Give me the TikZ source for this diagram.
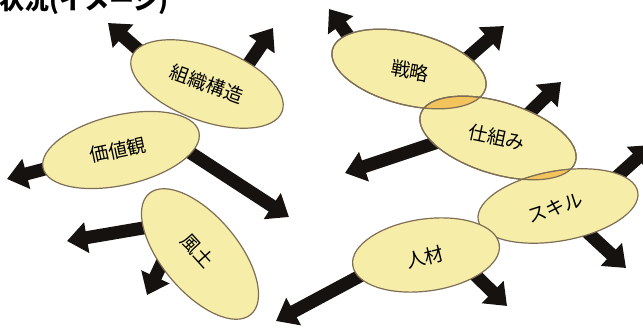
\documentclass[tikz,border=0pt]{standalone}
\usepackage{fontspec}
\newfontfamily\jp{Noto Sans CJK JP}
\usetikzlibrary{shapes.geometric,arrows.meta}
\definecolor{blobfill}{RGB}{246,237,168}
\definecolor{edgecol}{RGB}{125,110,85}
\definecolor{overcol}{RGB}{244,196,92}
\definecolor{arrowcol}{RGB}{22,18,16}
\tikzset{
  blob/.style={ellipse, draw=edgecol, line width=1.2pt, fill=blobfill, inner sep=0pt},
  bigarrow/.style={draw=arrowcol, line width=13pt, -{Triangle[length=20pt,width=30pt]}},
  lbl/.style={font=\jp\fontsize{19}{19}\selectfont, inner sep=0pt, text=black},
  edge line/.style={draw=edgecol, line width=1.2pt}
}
\begin{document}
\begin{tikzpicture}[x=1pt,y=-1pt]
\useasboundingbox (0,0) rectangle (643,328);
% title (cut off by page edge)
\node[anchor=base west, inner sep=0pt, font=\jp\bfseries\fontsize{25}{25}\selectfont] (title) at (-1,10) {状況(イメージ)};
% arrow end points
\coordinate (t1) at (150,60);  \coordinate (h1) at (108,23);
\coordinate (t2) at (243,72);  \coordinate (h2) at (273,28);
\coordinate (t3) at (180,146); \coordinate (h3) at (289,217);
\coordinate (t4) at (60,165);  \coordinate (h4) at (7,179);
\coordinate (t5) at (155,226); \coordinate (h5) at (67,241);
\coordinate (t6) at (168,250); \coordinate (h6) at (147,295);
\coordinate (t7) at (375,268); \coordinate (h7) at (276,321);
\coordinate (t8) at (465,265); \coordinate (h8) at (507,306);
\coordinate (t9) at (362,55);  \coordinate (h9) at (329,9);
\coordinate (t10) at (465,60); \coordinate (h10) at (504,26);
\coordinate (t11) at (520,122);\coordinate (h11) at (561,82);
\coordinate (t12) at (450,138);\coordinate (h12) at (345,173);
\coordinate (t13) at (600,192);\coordinate (h13) at (652,145);
\coordinate (t14) at (585,230);\coordinate (h14) at (626,268);
\foreach \i in {1,...,14} {\draw[bigarrow] (t\i) -- (h\i);}
% ellipses
\node[blob, minimum width=160pt, minimum height=74pt, rotate=-20] (sosiki) at (207,84) {};
\node[blob, minimum width=160pt, minimum height=70pt, rotate=13] (kachi) at (121,150) {};
\node[blob, minimum width=158pt, minimum height=76pt, rotate=-50] (fudo) at (200,254) {};
\node[blob, minimum width=158pt, minimum height=72pt, rotate=-14] (senryaku) at (409,69) {};
\node[blob, minimum width=162pt, minimum height=72pt, rotate=-17] (shikumi) at (498,138) {};
\node[blob, minimum width=162pt, minimum height=70pt, rotate=10] (skill) at (558,206) {};
\node[blob, minimum width=148pt, minimum height=72pt, rotate=8] (jinzai) at (426,255) {};
% overlaps
\begin{scope}
  \clip[rotate around={-14:(409,69)}] (409,69) ellipse [x radius=79pt, y radius=36pt];
  \fill[overcol, rotate around={-17:(498,138)}] (498,138) ellipse [x radius=81pt, y radius=36pt];
  \draw[edge line, rotate around={-17:(498,138)}] (498,138) ellipse [x radius=81pt, y radius=36pt];
\end{scope}
\draw[edge line, rotate around={-14:(409,69)}] (409,69) ellipse [x radius=79pt, y radius=36pt];
\begin{scope}
  \clip[rotate around={-17:(498,138)}] (498,138) ellipse [x radius=81pt, y radius=36pt];
  \fill[overcol, rotate around={10:(558,206)}] (558,206) ellipse [x radius=81pt, y radius=35pt];
  \draw[edge line, rotate around={10:(558,206)}] (558,206) ellipse [x radius=81pt, y radius=35pt];
\end{scope}
\draw[edge line, rotate around={-17:(498,138)}] (498,138) ellipse [x radius=81pt, y radius=36pt];
% labels
\node[lbl, rotate=-20] (l1) at (sosiki.center) {組織構造};
\node[lbl, rotate=12] (l2) at (118,150) {価値観};
\node[lbl, rotate=-48] (l3) at (198,251) {風土};
\node[lbl, rotate=-10] (l4) at (410,71) {戦略};
\node[lbl, rotate=-12] (l5) at (497,137) {仕組み};
\node[lbl, rotate=18] (l6) at (555,208) {スキル};
\node[lbl, rotate=14] (l7) at (425,257) {人材};
\end{tikzpicture}
\end{document}
